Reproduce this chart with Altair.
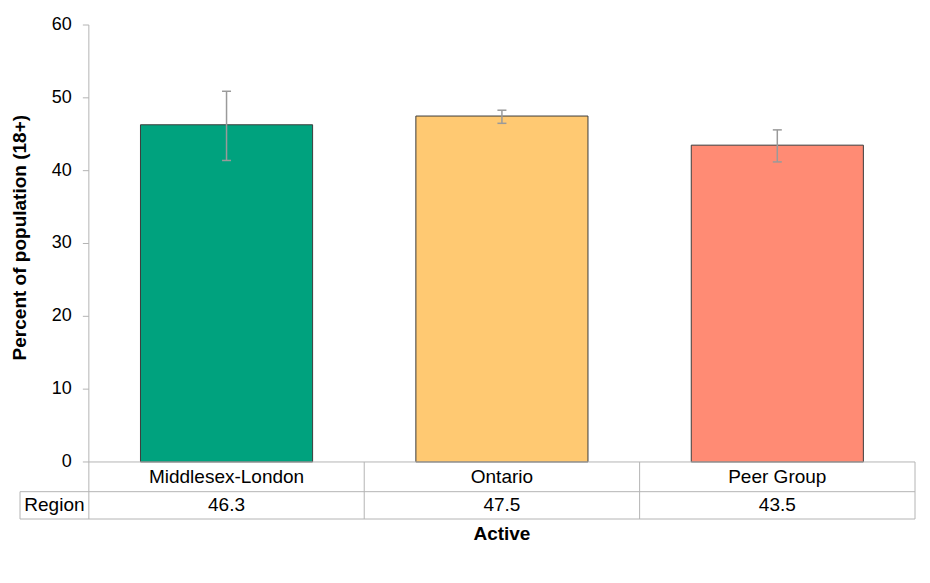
import altair as alt
import pandas as pd

# ---- data ----
categories = ["Middlesex-London", "Ontario", "Peer Group"]
values = [46.3, 47.5, 43.5]
ci_lower = [41.4, 46.5, 41.2]
ci_upper = [50.9, 48.3, 45.6]
bar_colors = ["#00A27E", "#FFC972", "#FF8B74"]
y_ticks = [0, 10, 20, 30, 40, 50, 60]
row_label = "Region"
x_title = "Active"
y_title = "Percent of population (18+)"

# ---- layout constants ----
W, H = 895, 494
X_MIN, X_MAX = -0.25, 3.0
Y_MIN, Y_MAX = -7.83, 60.0
PXX = W / (X_MAX - X_MIN)          # px per x unit
PXY = H / (Y_MAX - Y_MIN)          # px per y unit
ROW1 = -29.7 / PXY                 # bottom of category row
ROW2 = Y_MIN                       # bottom of value row
BAR_W = 0.625
CAP = 4.5 / PXX
TICK = 6 / PXX
FONT = "Liberation Sans"
GRID = "#b4b4b4"

n = len(categories)
bars = pd.DataFrame({
    "cat": categories,
    "val": values,
    "lo": ci_lower,
    "hi": ci_upper,
})
bars["xc"] = [i + 0.5 for i in range(n)]
bars["x0"] = bars["xc"] - BAR_W / 2
bars["x1"] = bars["xc"] + BAR_W / 2
bars["c0"] = bars["xc"] - CAP
bars["c1"] = bars["xc"] + CAP
bars["label"] = [f"{v:.1f}" for v in values]
bars["ycat"] = ROW1 / 2
bars["yval"] = (ROW1 + ROW2) / 2

xs = alt.Scale(domain=[X_MIN, X_MAX], nice=False, zero=False)
ys = alt.Scale(domain=[Y_MIN, Y_MAX], nice=False, zero=False)

def X(f):
    return alt.X(f, type="quantitative", scale=xs, axis=None)

def Y(f):
    return alt.Y(f, type="quantitative", scale=ys, axis=None)

base = alt.Chart(bars)

bar_layer = base.mark_bar(stroke="#3c3c3c", strokeWidth=1).encode(
    x=X("x0"), x2="x1", y=Y("val"), y2=alt.datum(0),
    color=alt.Color("cat:N", scale=alt.Scale(domain=categories, range=bar_colors), legend=None),
)
err_line = base.mark_rule(color="#9a9a9a", strokeWidth=1.5).encode(
    x=X("xc"), y=Y("lo"), y2="hi")
err_top = base.mark_rule(color="#9a9a9a", strokeWidth=1.5).encode(
    x=X("c0"), x2="c1", y=Y("hi"))
err_bot = base.mark_rule(color="#9a9a9a", strokeWidth=1.5).encode(
    x=X("c0"), x2="c1", y=Y("lo"))

# table + axis lines
segs = []
segs.append((0, 0, 0, Y_MAX))            # y axis line
segs.append((0, n, 0, 0))                # table top / baseline
segs.append((X_MIN, n, ROW1, ROW1))
segs.append((X_MIN, n, ROW2, ROW2))
segs.append((X_MIN, X_MIN, ROW1, ROW2))
for i in range(n + 1):
    segs.append((i, i, 0, ROW2))
for t in y_ticks:
    segs.append((-TICK, 0, t, t))
lines = pd.DataFrame(segs, columns=["x", "x2", "y", "y2"])
line_layer = alt.Chart(lines).mark_rule(color=GRID, strokeWidth=1).encode(
    x=X("x"), x2="x2", y=Y("y"), y2="y2")

# y tick labels
ticks_df = pd.DataFrame({"t": y_ticks})
ticks_df["lx"] = -(17 / PXX)
ticks_df["lab"] = [str(t) for t in y_ticks]
tick_labels = alt.Chart(ticks_df).mark_text(
    align="right", baseline="middle", font=FONT, fontSize=18, color="#000000"
).encode(x=X("lx"), y=Y("t"), text="lab:N")

cat_text = base.mark_text(font=FONT, fontSize=19, color="#000000", baseline="middle").encode(
    x=X("xc"), y=Y("ycat"), text="cat:N")
val_text = base.mark_text(font=FONT, fontSize=19, color="#000000", baseline="middle").encode(
    x=X("xc"), y=Y("yval"), text="label:N")

misc = pd.DataFrame({
    "txt": [row_label],
    "x": [(X_MIN + 0) / 2],
    "y": [(ROW1 + ROW2) / 2],
})
row_text = alt.Chart(misc).mark_text(font=FONT, fontSize=19, color="#000000", baseline="middle").encode(
    x=X("x"), y=Y("y"), text="txt:N")

titles = pd.DataFrame({
    "txt": [x_title],
    "x": [n / 2],
    "y": [ROW2 - 15 / PXY],
})
xt = alt.Chart(titles).mark_text(font=FONT, fontSize=19, fontWeight="bold", color="#000000",
                                 baseline="middle").encode(x=X("x"), y=Y("y"), text="txt:N")

ytd = pd.DataFrame({"txt": [y_title], "x": [X_MIN - 0.5 / PXX], "y": [30.8]})
yt = alt.Chart(ytd).mark_text(font=FONT, fontSize=19, fontWeight="bold", color="#000000",
                              angle=270, baseline="middle").encode(x=X("x"), y=Y("y"), text="txt:N")

chart = alt.layer(
    bar_layer, err_line, err_top, err_bot, line_layer, tick_labels,
    cat_text, val_text, row_text, xt, yt
).properties(
    width=W, height=H,
    autosize=alt.AutoSizeParams(type="none"),
    padding={"left": 12, "top": 17, "right": 7, "bottom": 32},
).configure(background="white").configure_view(strokeWidth=0, stroke="transparent")

chart.save("out.html", embed_options={"renderer": "svg", "actions": False})
